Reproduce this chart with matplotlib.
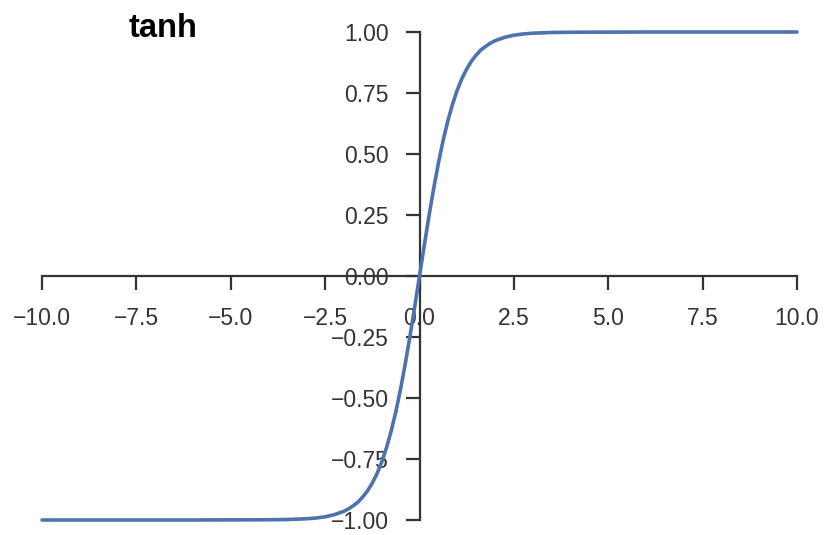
import matplotlib
matplotlib.use("Agg")
import matplotlib.pyplot as plt

# values
x_vals = [-10.0, -6.0, -4.0, -3.5, -3.0, -2.75, -2.5, -2.25, -2.0, -1.875, -1.75, -1.625,
          -1.5, -1.375, -1.25, -1.125, -1.0, -0.875, -0.75, -0.625, -0.5, -0.375, -0.25, -0.125,
          0.0, 0.125, 0.25, 0.375, 0.5, 0.625, 0.75, 0.875, 1.0, 1.125, 1.25, 1.375,
          1.5, 1.625, 1.75, 1.875, 2.0, 2.25, 2.5, 2.75, 3.0, 3.5, 4.0, 6.0, 10.0]
y_vals = [-1.000, -1.000, -0.999, -0.998, -0.995, -0.992, -0.987, -0.978, -0.964, -0.954, -0.941, -0.926,
          -0.905, -0.880, -0.848, -0.810, -0.762, -0.704, -0.635, -0.555, -0.462, -0.358, -0.245, -0.124,
          0.000, 0.124, 0.245, 0.358, 0.462, 0.555, 0.635, 0.704, 0.762, 0.810, 0.848, 0.880,
          0.905, 0.926, 0.941, 0.954, 0.964, 0.978, 0.987, 0.992, 0.995, 0.998, 0.999, 1.000, 1.000]
x_ticks = [-10.0, -7.5, -5.0, -2.5, 0.0, 2.5, 5.0, 7.5, 10.0]
y_ticks = [-1.00, -0.75, -0.50, -0.25, 0.00, 0.25, 0.50, 0.75, 1.00]
title = "tanh"

plt.rcParams['font.family'] = ['Liberation Sans', 'DejaVu Sans']
plt.rcParams['axes.unicode_minus'] = True

fig = plt.figure(figsize=(8.29, 5.35), dpi=100)
ax = fig.add_axes([42 / 829, 1 - 520 / 535, 755 / 829, 488 / 535])

ax.plot(x_vals, y_vals, color='#4c72b0', lw=2.6, clip_on=False, zorder=3,
        solid_joinstyle='round', solid_capstyle='round')

ax.set_xlim(-10, 10)
ax.set_ylim(-1, 1)
ax.spines['left'].set_position(('data', 0))
ax.spines['bottom'].set_position(('data', 0))
ax.spines['right'].set_visible(False)
ax.spines['top'].set_visible(False)
for s in ('left', 'bottom'):
    ax.spines[s].set_color('#333333')
    ax.spines[s].set_linewidth(1.6)

ax.set_xticks(x_ticks)
ax.set_xticklabels([f"{v:.1f}".replace('-', '\u2212') for v in x_ticks])
ax.set_yticks(y_ticks)
ax.set_yticklabels([f"{v:.2f}".replace('-', '\u2212') for v in y_ticks])
ax.tick_params(axis='both', direction='out', length=10, width=1.6, color='#333333',
               labelcolor='#333333', labelsize=16.5)
ax.tick_params(axis='x', pad=12)
ax.tick_params(axis='y', pad=12)

ax.text(-6.8, 0.979, title, ha='center', va='baseline', fontsize=23.5,
        fontweight='bold', color='black')

fig.savefig('out.png', dpi=100)
